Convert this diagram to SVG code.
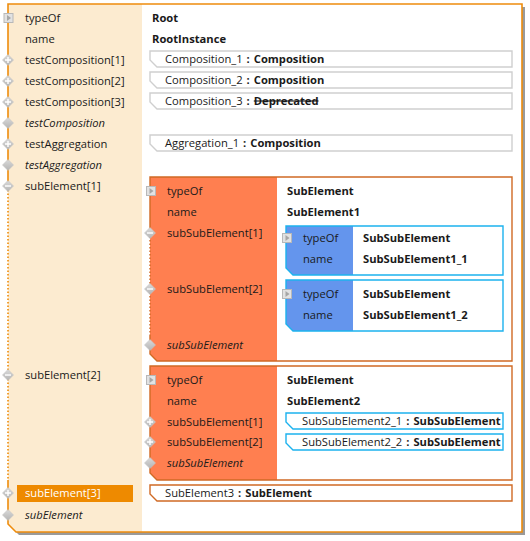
<svg xmlns="http://www.w3.org/2000/svg" width="530" height="541" viewBox="0 0 530 541">
<style>
text{font-family:"Open Sans","Noto Sans","DejaVu Sans",sans-serif;font-size:11.2px;fill:#1a1a1a}
.b{font-weight:bold}
.i{font-style:italic}
.w{fill:#ffffff}
.strike{text-decoration:line-through}
.ob{fill:none;stroke:#EE8C0C;stroke-width:1.6}
.obd{fill:none;stroke:#EE8C0C;stroke-width:1.6;stroke-dasharray:1.5 2}
.eb{fill:none;stroke:#D06A24;stroke-width:1.4}
.ebd{fill:none;stroke:#D06A24;stroke-width:1.4;stroke-dasharray:1.5 2}
.bb{fill:none;stroke:#1CB2EE;stroke-width:1.4}
.gb{fill:#ffffff;stroke:#CFCFCF;stroke-width:1.4}
</style>
<defs>
<linearGradient id="dg" x1="0" y1="0" x2="0" y2="1">
<stop offset="0" stop-color="#DADADA"/>
<stop offset="1" stop-color="#B4B4B4"/>
</linearGradient>
<g id="exp">
<rect x="-4.5" y="-4.5" width="9" height="9" fill="#E2E2E2" stroke="#B8B8B8" stroke-width="1"/>
<path d="M-1.5,-3 L2.5,0 L-1.5,3 Z" fill="#A6A6A6"/>
</g>
<path id="dia" d="M0,-5.5 L5.5,0 L0,5.5 L-5.5,0 Z" fill="url(#dg)" stroke="#C2C2C2" stroke-width="0.6"/>
<g id="plus"><use href="#dia"/><path d="M-3,0 H3 M0,-3 V3" stroke="#ffffff" stroke-width="1.4"/></g>
<g id="minus"><use href="#dia"/><path d="M-3,0 H3" stroke="#ffffff" stroke-width="1.4"/></g>
</defs>

<g id="root">
<path d="M11,7 H525 V535 H19 L11,527 Z" fill="#9A9A9A"/>
<path d="M8,4 H522 V532 H16 L8,524 Z" fill="#ffffff"/>
<path d="M8,4 H142 V532 H16 L8,524 Z" fill="#FCEBD0"/>
<path class="ob" d="M8,190 V4 H522 V532 H16 L8,524 V480"/>
<path class="obd" d="M8,190 V480"/>
<rect x="17" y="485" width="116" height="17" fill="#EE8A00"/>
<text x="25" y="22">typeOf</text>
<text x="25" y="43">name</text>
<text x="25" y="64">testComposition[1]</text>
<text x="25" y="85">testComposition[2]</text>
<text x="25" y="106">testComposition[3]</text>
<text class="i" x="25" y="127">testComposition</text>
<text x="25" y="148">testAggregation</text>
<text class="i" x="25" y="169">testAggregation</text>
<text x="25" y="190">subElement[1]</text>
<text x="25" y="379">subElement[2]</text>
<text class="w" x="25" y="497">subElement[3]</text>
<text class="i" x="25" y="519">subElement</text>
<text class="b" x="152" y="22">Root</text>
<text class="b" x="152" y="43">RootInstance</text>
<use href="#exp" x="8.5" y="18"/>
<use href="#plus" x="8" y="60"/>
<use href="#plus" x="8" y="81"/>
<use href="#plus" x="8" y="102"/>
<use href="#dia" x="8" y="123"/>
<use href="#plus" x="8" y="144"/>
<use href="#dia" x="8" y="165"/>
<use href="#minus" x="8" y="186"/>
<use href="#minus" x="8" y="375"/>
<use href="#plus" x="8" y="493"/>
<use href="#dia" x="8" y="515"/>
</g>

<g id="composition_1">
<path class="gb" d="M150,51 H512 V67 H157 L150,60 Z"/>
<text x="165" y="63">Composition_1<tspan class="b" dx="4">:</tspan><tspan class="b" dx="4">Composition</tspan></text>
</g>
<g id="composition_2">
<path class="gb" d="M150,72 H512 V88 H157 L150,81 Z"/>
<text x="165" y="84">Composition_2<tspan class="b" dx="4">:</tspan><tspan class="b" dx="4">Composition</tspan></text>
</g>
<g id="composition_3">
<path class="gb" d="M150,93 H512 V109 H157 L150,102 Z"/>
<text x="165" y="105">Composition_3<tspan class="b" dx="4">:</tspan><tspan class="b strike" dx="4">Deprecated</tspan></text>
</g>
<g id="aggregation_1">
<path class="gb" d="M150,135 H512 V151 H157 L150,144 Z"/>
<text x="165" y="147">Aggregation_1<tspan class="b" dx="4">:</tspan><tspan class="b" dx="4">Composition</tspan></text>
</g>

<g id="subElement1">
<path d="M150,177 H512 V361 H157 L150,354 Z" fill="#ffffff"/>
<path d="M150,177 H277 V361 H157 L150,354 Z" fill="#FF7F50"/>
<path class="eb" d="M150,233 V177 H512 V361 H157 L150,354 V335"/>
<path class="ebd" d="M150,233 V335"/>
<text x="167" y="195">typeOf</text>
<text x="167" y="216">name</text>
<text x="167" y="237">subSubElement[1]</text>
<text x="167" y="293">subSubElement[2]</text>
<text class="i" x="167" y="349">subSubElement</text>
<text class="b" x="287" y="195">SubElement</text>
<text class="b" x="287" y="216">SubElement1</text>
<use href="#exp" x="151" y="191"/>
<use href="#minus" x="150" y="233"/>
<use href="#minus" x="150" y="289"/>
<use href="#dia" x="150" y="345"/>
</g>

<g id="subSubElement1_1">
<path d="M286,226 H503 V275 H293 L286,268 Z" fill="#ffffff"/>
<path d="M286,226 H353 V275 H293 L286,268 Z" fill="#6495ED"/>
<path class="bb" d="M286,226 H503 V275 H293 L286,268 Z"/>
<text x="303" y="242">typeOf</text>
<text x="303" y="263">name</text>
<text class="b" x="363" y="242">SubSubElement</text>
<text class="b" x="363" y="263">SubSubElement1_1</text>
<use href="#exp" x="287" y="238"/>
</g>

<g id="subSubElement1_2">
<path d="M286,280 H503 V331 H293 L286,324 Z" fill="#ffffff"/>
<path d="M286,280 H353 V331 H293 L286,324 Z" fill="#6495ED"/>
<path class="bb" d="M286,280 H503 V331 H293 L286,324 Z"/>
<text x="303" y="298">typeOf</text>
<text x="303" y="319">name</text>
<text class="b" x="363" y="298">SubSubElement</text>
<text class="b" x="363" y="319">SubSubElement1_2</text>
<use href="#exp" x="287" y="294"/>
</g>

<g id="subElement2">
<path d="M150,366 H512 V480 H157 L150,473 Z" fill="#ffffff"/>
<path d="M150,366 H277 V480 H157 L150,473 Z" fill="#FF7F50"/>
<path class="eb" d="M150,366 H512 V480 H157 L150,473 Z"/>
<text x="167" y="384">typeOf</text>
<text x="167" y="405">name</text>
<text x="167" y="426">subSubElement[1]</text>
<text x="167" y="446">subSubElement[2]</text>
<text class="i" x="167" y="467">subSubElement</text>
<text class="b" x="287" y="384">SubElement</text>
<text class="b" x="287" y="405">SubElement2</text>
<use href="#exp" x="151" y="380"/>
<use href="#plus" x="150" y="422"/>
<use href="#plus" x="150" y="442"/>
<use href="#dia" x="150" y="463"/>
</g>

<g id="subSubElement2_1">
<path d="M286,413 H503 V429 H293 L286,422 Z" fill="#ffffff" stroke="#1CB2EE" stroke-width="1.4"/>
<text x="302" y="425">SubSubElement2_1<tspan class="b" dx="4">:</tspan><tspan class="b" dx="4">SubSubElement</tspan></text>
</g>
<g id="subSubElement2_2">
<path d="M286,434 H503 V450 H293 L286,443 Z" fill="#ffffff" stroke="#1CB2EE" stroke-width="1.4"/>
<text x="302" y="446">SubSubElement2_2<tspan class="b" dx="4">:</tspan><tspan class="b" dx="4">SubSubElement</tspan></text>
</g>

<g id="subElement3">
<path d="M150,485 H512 V501 H157 L150,494 Z" fill="#ffffff" stroke="#D06A24" stroke-width="1.4"/>
<text x="165" y="497">SubElement3<tspan class="b" dx="4">:</tspan><tspan class="b" dx="4">SubElement</tspan></text>
</g>

<g id="connectors"/>
</svg>
